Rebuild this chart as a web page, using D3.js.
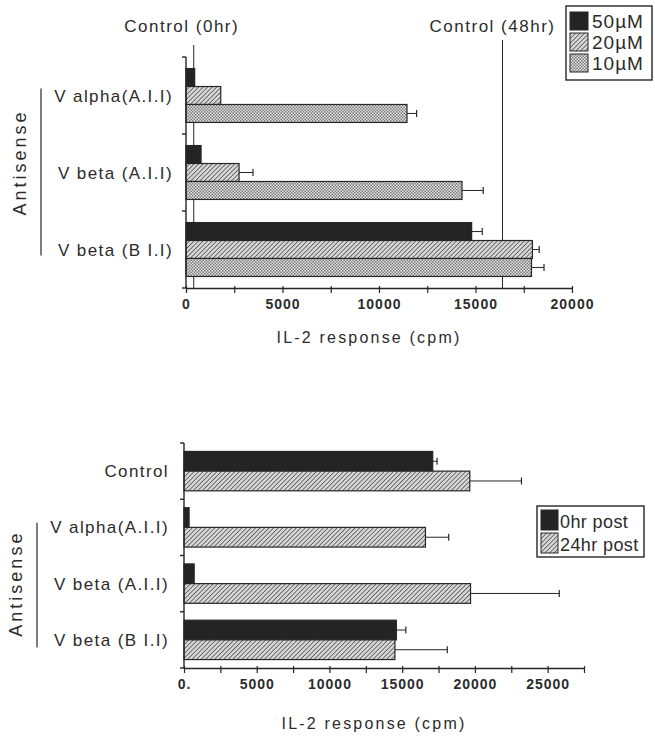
<!DOCTYPE html>
<html>
<head>
<meta charset="utf-8">
<script src="https://cdn.jsdelivr.net/npm/d3@7"></script>
<style>
  body { margin: 0; background: #fff; }
  svg text { font-family: "Liberation Sans", Arial, sans-serif; fill: #2b2b2b; }
</style>
</head>
<body>
<svg id="chart"></svg>
<script>
const width = 655, height = 736;

// top chart data
const topGroups = ["V alpha(A.I.I)", "V beta (A.I.I)", "V beta (B I.I)"];
const topSeries = ["50\u00b5M", "20\u00b5M", "10\u00b5M"];
const topValues = [
  [450, 1800, 11450],
  [780, 2750, 14300],
  [14800, 17950, 17900]
];
const topErrors = [
  [null, null, 11950],
  [null, 3470, 15400],
  [15350, 18300, 18550]
];
const topControls = [{label: "Control (0hr)", value: 400}, {label: "Control (48hr)", value: 16400}];
const topTicks = [0, 5000, 10000, 15000, 20000];

// bottom chart data
const botGroups = ["Control", "V alpha(A.I.I)", "V beta (A.I.I)", "V beta (B I.I)"];
const botSeries = ["0hr post", "24hr post"];
const botValues = [
  [17100, 19650],
  [350, 16600],
  [700, 19700],
  [14600, 14500]
];
const botErrors = [
  [17400, 23200],
  [null, 18200],
  [null, 25800],
  [15250, 18100]
];
const botTicks = [0, 5000, 10000, 15000, 20000, 25000];

const svg = d3.select("#chart").attr("width", width).attr("height", height);
const ink = "#262626";

// fill patterns
const defs = svg.append("defs");
const hatch = defs.append("pattern").attr("id", "hatch")
  .attr("width", 3.2).attr("height", 3.2)
  .attr("patternUnits", "userSpaceOnUse")
  .attr("patternTransform", "rotate(45)");
hatch.append("rect").attr("width", 3.2).attr("height", 3.2).attr("fill", "#d6d6d6");
hatch.append("line").attr("x1", 0).attr("y1", 0).attr("x2", 0).attr("y2", 3.2)
  .attr("stroke", "#3a3a3a").attr("stroke-width", 1.3);
const dots = defs.append("pattern").attr("id", "dots")
  .attr("width", 3).attr("height", 3).attr("patternUnits", "userSpaceOnUse");
dots.append("rect").attr("width", 3).attr("height", 3).attr("fill", "#e4e4e4");
dots.append("rect").attr("width", 1.5).attr("height", 1.5).attr("fill", "#7a7a7a");
dots.append("rect").attr("x", 1.5).attr("y", 1.5).attr("width", 1.5).attr("height", 1.5).attr("fill", "#7a7a7a");

const fills = {
  "50\u00b5M": "#242424", "20\u00b5M": "url(#hatch)", "10\u00b5M": "url(#dots)",
  "0hr post": "#242424", "24hr post": "url(#hatch)"
};

function drawPanel(opt) {
  const g = svg.append("g");
  const x = d3.scaleLinear().domain(opt.xDomain).range(opt.xRange);
  const y = d3.scaleBand().domain(opt.groups).range(opt.yRange)
    .paddingInner(0.3).paddingOuter(0.15);
  const ys = d3.scaleBand().domain(opt.series).range([0, y.bandwidth()]);

  // control reference lines behind bars
  (opt.controls || []).forEach(function (c) {
    g.append("line")
      .attr("x1", x(c.value)).attr("x2", x(c.value))
      .attr("y1", opt.yRange[0] - (c.value > 5000 ? 17 : 12)).attr("y2", opt.yRange[1])
      .attr("stroke", ink).attr("stroke-width", 1);
    g.append("text")
      .attr("x", x(c.value) - (c.value > 5000 ? 10 : 12)).attr("y", 32)
      .attr("text-anchor", "middle").attr("font-size", 17).attr("letter-spacing", 1.5)
      .text(c.label);
  });

  // bars
  opt.groups.forEach(function (grp, i) {
    opt.series.forEach(function (s, j) {
      const v = opt.values[i][j];
      const by = y(grp) + ys(s);
      g.append("rect")
        .attr("x", x(0)).attr("y", by)
        .attr("width", x(v) - x(0)).attr("height", ys.bandwidth())
        .attr("fill", fills[s]).attr("stroke", ink).attr("stroke-width", 1.2);
      const e = opt.errors[i][j];
      if (e != null) {
        const cy = by + ys.bandwidth() / 2;
        g.append("line").attr("x1", x(v)).attr("x2", x(e)).attr("y1", cy).attr("y2", cy)
          .attr("stroke", ink).attr("stroke-width", 1);
        g.append("line").attr("x1", x(e)).attr("x2", x(e)).attr("y1", cy - 3.5).attr("y2", cy + 3.5)
          .attr("stroke", ink).attr("stroke-width", 1.2);
      }
    });
  });

  // x axis
  const minor = d3.range(opt.xDomain[0], opt.xDomain[1] + 1, 2500);
  const xAxis = g.append("g").attr("transform", "translate(0," + opt.yRange[1] + ")")
    .call(d3.axisBottom(x).tickValues(minor).tickSize(5).tickSizeOuter(0)
      .tickFormat(function (d) { return opt.xTicks.includes(d) ? opt.tickFormat(d) : ""; }));
  xAxis.select(".domain").attr("stroke", ink).attr("stroke-width", 1.4);
  xAxis.selectAll(".tick line").attr("stroke", ink).attr("stroke-width", 1.2).attr("y1", -2);
  xAxis.selectAll(".tick text").attr("font-size", 14).attr("font-weight", "bold")
    .attr("letter-spacing", 1).attr("dy", "0.95em").style("font-family", "inherit").attr("fill", ink);

  // y axis line with group ticks
  g.append("line").attr("x1", x(0)).attr("x2", x(0))
    .attr("y1", opt.yRange[0]).attr("y2", opt.yRange[1])
    .attr("stroke", ink).attr("stroke-width", 1.4);
  d3.range(opt.groups.length + 1).forEach(function (k) {
    const ty = opt.yRange[0] + k * y.step();
    g.append("line").attr("x1", x(0) - 4).attr("x2", x(0)).attr("y1", ty).attr("y2", ty)
      .attr("stroke", ink).attr("stroke-width", 1.4);
  });

  // category labels
  opt.groups.forEach(function (grp) {
    g.append("text")
      .attr("x", opt.labelX).attr("y", y(grp) + y.bandwidth() / 2 + 6)
      .attr("text-anchor", "end").attr("font-size", 17).attr("letter-spacing", 1.4)
      .text(grp);
  });

  // Antisense bracket
  const first = y(opt.groups[opt.antisenseFrom]);
  const last = y(opt.groups[opt.groups.length - 1]) + y.bandwidth();
  g.append("line").attr("x1", opt.bracketX).attr("x2", opt.bracketX)
    .attr("y1", first + opt.bracketPad[0]).attr("y2", last - opt.bracketPad[1])
    .attr("stroke", ink).attr("stroke-width", 1.2);
  g.append("text")
    .attr("transform", "translate(" + (opt.bracketX - 15) + "," + ((first + last) / 2 + opt.antisenseShift) + ") rotate(-90)")
    .attr("text-anchor", "middle").attr("font-size", 18).attr("letter-spacing", 3)
    .text("Antisense");

  // axis title
  g.append("text")
    .attr("x", (opt.xRange[0] + opt.xRange[1]) / 2 - 10).attr("y", opt.titleY)
    .attr("text-anchor", "middle").attr("font-size", 16).attr("letter-spacing", 2.2)
    .text("IL-2  response (cpm)");

  // legend
  const L = opt.legend;
  const lg = g.append("g").attr("transform", "translate(" + L.x + "," + L.y + ")");
  lg.append("rect").attr("width", L.w).attr("height", L.h)
    .attr("fill", "#fff").attr("stroke", ink).attr("stroke-width", 1.4);
  opt.series.forEach(function (s, j) {
    lg.append("rect").attr("x", 4).attr("y", L.pad + j * L.row)
      .attr("width", L.sw).attr("height", L.row - 3)
      .attr("fill", fills[s]).attr("stroke", ink).attr("stroke-width", 1);
    lg.append("text").attr("x", L.sw + L.tx).attr("y", L.pad + j * L.row + L.row - 5)
      .attr("font-size", L.fs).attr("letter-spacing", L.ls)
      .text(s);
  });
}

drawPanel({
  groups: topGroups, series: topSeries, values: topValues, errors: topErrors,
  controls: topControls,
  xDomain: [0, 20000], xRange: [186, 572], yRange: [57, 288],
  xTicks: topTicks, tickFormat: function (d) { return String(d); },
  labelX: 173, bracketX: 41, bracketPad: [20, 21], antisenseFrom: 0, antisenseShift: -10, titleY: 343,
  legend: {x: 566, y: 6, w: 86, h: 74, pad: 6, row: 21, sw: 18, tx: 8, fs: 19, ls: 1}
});

drawPanel({
  groups: botGroups, series: botSeries, values: botValues, errors: botErrors,
  xDomain: [0, 27500], xRange: [184, 584], yRange: [443, 668],
  xTicks: botTicks, tickFormat: function (d) { return d === 0 ? "0." : String(d); },
  labelX: 169, bracketX: 37, bracketPad: [15, 12], antisenseFrom: 1, antisenseShift: 0, titleY: 729,
  legend: {x: 537, y: 506, w: 107, h: 51, pad: 4, row: 23, sw: 17, tx: 6, fs: 18, ls: 0.4}
});
</script>
</body>
</html>
